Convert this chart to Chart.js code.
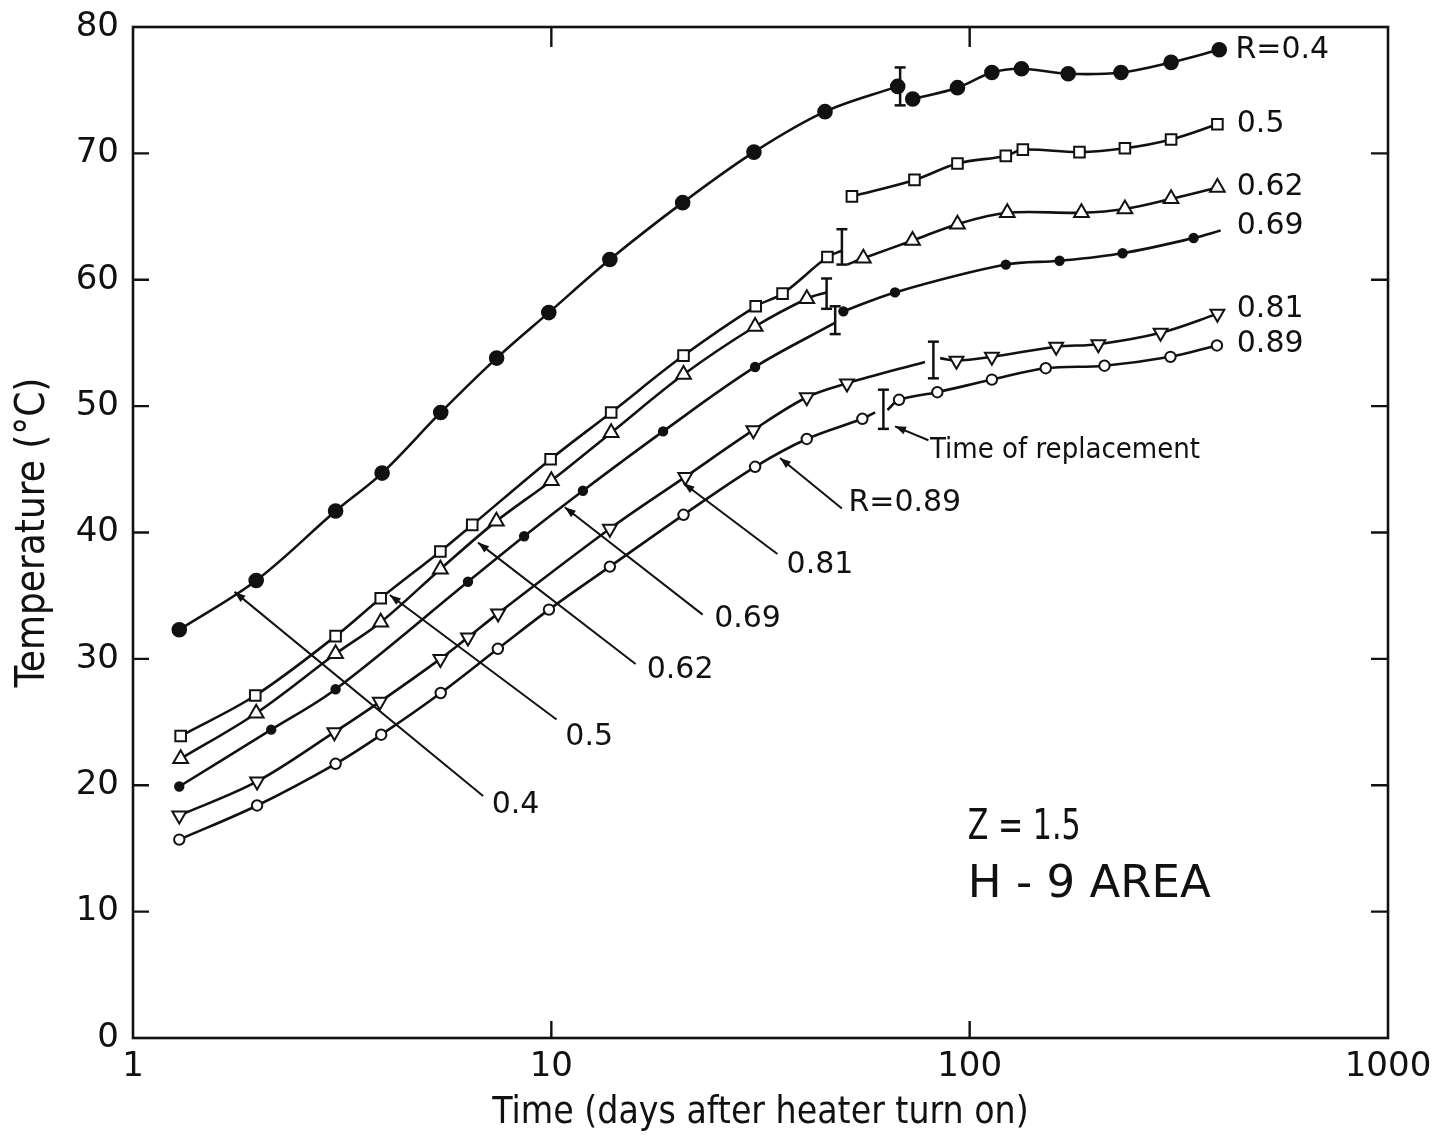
<!DOCTYPE html>
<html><head><meta charset="utf-8">
<script src="https://cdn.jsdelivr.net/npm/chart.js@4.4.1/dist/chart.umd.min.js"></script>
<style>html,body{margin:0;padding:0;background:#fff}#wrap{width:1433px;height:1136px;position:relative}</style>
</head><body><div id="wrap"><canvas id="c"></canvas></div>
<script>
const NARROW = "'Liberation Sans Narrow','DejaVu Sans Condensed','Liberation Sans',sans-serif";
const WIDE = "'DejaVu Sans',sans-serif";
const INK = '#111';

// ---- axis ticks ----
const xTickValues = [1, 10, 100, 1000];
const yTickValues = [0, 10, 20, 30, 40, 50, 60, 70, 80];

// ---- R = 0.4 (filled circles) ----
const r04PreTime = [1.29, 1.97, 3.05, 3.94, 5.44, 7.40, 9.86, 13.8, 20.6, 30.5, 45.1, 67.3];
const r04PreTemp = [32.3, 36.2, 41.7, 44.7, 49.5, 53.8, 57.4, 61.6, 66.1, 70.1, 73.3, 75.3];
const r04PreMark = [1,1,1,1,1,1,1,1,1,1,1,1];
const r04PostTime = [73.1, 93.5, 113, 133, 172, 230, 303, 395];
const r04PostTemp = [74.3, 75.2, 76.4, 76.7, 76.3, 76.4, 77.2, 78.2];
const r04PostMark = [1,1,1,1,1,1,1,1];

// ---- R = 0.5 (open squares) ----
const r05PreTime = [1.30, 1.96, 3.05, 3.91, 5.43, 6.47, 9.96, 13.9, 20.7, 30.8, 35.7, 45.7, 49.5];
const r05PreTemp = [23.9, 27.1, 31.8, 34.8, 38.5, 40.6, 45.8, 49.5, 54.0, 57.9, 58.9, 61.8, 62.3];
const r05PreMark = [1,1,1,1,1,1,1,1,1,1,1,1,0];
const r05PostTime = [52.3, 73.8, 93.5, 122, 134, 183, 235, 303, 391];
const r05PostTemp = [66.6, 67.9, 69.2, 69.8, 70.3, 70.1, 70.4, 71.1, 72.3];
const r05PostMark = [1,1,1,1,1,1,1,1,1];

// ---- R = 0.62 (open triangles) ----
const r062PreTime = [1.30, 1.97, 3.05, 3.91, 5.43, 7.39, 10.0, 13.9, 20.7, 30.7, 40.8, 45.5];
const r062PreTemp = [22.1, 25.7, 30.4, 32.9, 37.1, 40.9, 44.1, 47.9, 52.5, 56.3, 58.5, 59.0];
const r062PreMark = [1,1,1,1,1,1,1,1,1,1,1,0];
const r062PostTime = [51.0, 55.7, 73.0, 93.5, 123, 185, 235, 303, 391];
const r062PostTemp = [61.2, 61.7, 63.1, 64.4, 65.3, 65.3, 65.6, 66.4, 67.3];
const r062PostMark = [0,1,1,1,1,1,1,1,1];

// ---- R = 0.69 (small filled dots) ----
const r069PreTime = [1.29, 2.14, 3.05, 6.32, 8.61, 11.9, 18.5, 30.7, 47.7];
const r069PreTemp = [19.9, 24.4, 27.6, 36.1, 39.7, 43.3, 48.0, 53.1, 56.6];
const r069PreMark = [1,1,1,1,1,1,1,1,0];
const r069PostTime = [49.9, 66.3, 122, 164, 232, 343, 398];
const r069PostTemp = [57.5, 59.0, 61.2, 61.5, 62.1, 63.3, 63.9];
const r069PostMark = [1,1,1,1,1,1,0];

// ---- R = 0.81 (open inverted triangles) ----
const r081PreTime = [1.29, 1.98, 3.03, 3.89, 5.43, 6.32, 7.46, 13.8, 20.9, 30.4, 40.8, 50.9, 78.2];
const r081PreTemp = [17.6, 20.3, 24.2, 26.6, 30.0, 31.7, 33.6, 40.3, 44.4, 48.1, 50.7, 51.8, 53.5];
const r081PreMark = [1,1,1,1,1,1,1,1,1,1,1,1,0];
const r081PostTime = [85.0, 93.0, 113, 161, 203, 286, 391];
const r081PostTemp = [53.8, 53.6, 53.9, 54.7, 54.9, 55.8, 57.3];
const r081PostMark = [0,1,1,1,1,1,1];

// ---- R = 0.89 (open circles) ----
const r089PreTime = [1.29, 1.98, 3.05, 3.92, 5.44, 7.45, 9.87, 13.8, 20.7, 30.7, 40.8, 55.4, 59.4];
const r089PreTemp = [15.7, 18.4, 21.7, 24.0, 27.3, 30.8, 33.9, 37.3, 41.4, 45.2, 47.4, 49.0, 49.5];
const r089PreMark = [1,1,1,1,1,1,1,1,1,1,1,1,0];
const r089PostTime = [63.6, 67.8, 83.7, 113, 152, 210, 302, 390];
const r089PostTemp = [49.7, 50.5, 51.1, 52.1, 53.0, 53.2, 53.9, 54.8];
const r089PostMark = [0,1,1,1,1,1,1,1];

// ---- time of replacement bars ----
const barTime = [68.2, 49.5, 45.5, 47.7, 81.9, 62.2];
const barLow  = [73.8, 61.2, 57.7, 55.7, 52.2, 48.2];
const barHigh = [76.8, 64.0, 60.1, 57.9, 55.1, 51.3];

// ---- right-hand series labels ----
const endLabelText = ['R=0.4', '0.5', '0.62', '0.69', '0.81', '0.89'];
const endLabelTime = [432, 435, 435, 435, 435, 435];
const endLabelTemp = [78.2, 72.3, 67.3, 64.2, 57.7, 54.9];

// ---- arrow call-outs ----
const arrowText     = ['0.4', '0.5', '0.62', '0.69', '0.81', 'R=0.89', 'Time of replacement'];
const arrowHeadTime = [1.749, 4.11, 6.68, 10.77, 20.7, 35.2, 66.3];
const arrowHeadTemp = [35.3, 35.05, 39.2, 42.0, 43.9, 45.9, 48.4];
const arrowTailTime = [6.87, 10.29, 15.9, 23.0, 34.7, 49.5, 79.7];
const arrowTailTemp = [19.15, 25.2, 29.6, 33.5, 38.3, 41.9, 47.3];
const arrowTextTime = [7.2, 10.8, 16.9, 24.5, 36.5, 51.3, 80.4];
const arrowTextTemp = [18.4, 23.8, 29.1, 33.1, 37.4, 42.3, 46.5];

// ---- area note ----
const noteText = ['Z = 1.5', 'H - 9 AREA'];
const noteTime = [99, 99];
const noteTemp = [16.6, 12.1];

function series(t, T, mark, style, radius, fill, rotation) {
  return {
    data: t.map((x, i) => ({x: x, y: T[i]})),
    borderColor: INK, borderWidth: 2.6,
    pointStyle: style, pointRotation: rotation || 0,
    pointRadius: mark.map(m => m ? radius : 0),
    pointBackgroundColor: fill ? INK : '#fff',
    pointBorderColor: INK, pointBorderWidth: 2,
    tension: 0.35, fill: false, showLine: true
  };
}

const datasets = [
  series(r04PreTime, r04PreTemp, r04PreMark, 'circle', 6.8, true),
  series(r04PostTime, r04PostTemp, r04PostMark, 'circle', 6.8, true),
  series(r05PreTime, r05PreTemp, r05PreMark, 'rect', 7.5, false),
  series(r05PostTime, r05PostTemp, r05PostMark, 'rect', 7.5, false),
  series(r062PreTime, r062PreTemp, r062PreMark, 'triangle', 8.5, false),
  series(r062PostTime, r062PostTemp, r062PostMark, 'triangle', 8.5, false),
  series(r069PreTime, r069PreTemp, r069PreMark, 'circle', 4.2, true),
  series(r069PostTime, r069PostTemp, r069PostMark, 'circle', 4.2, true),
  series(r081PreTime, r081PreTemp, r081PreMark, 'triangle', 8, false, 180),
  series(r081PostTime, r081PostTemp, r081PostMark, 'triangle', 8, false, 180),
  series(r089PreTime, r089PreTemp, r089PreMark, 'circle', 5.2, false),
  series(r089PostTime, r089PostTemp, r089PostMark, 'circle', 5.2, false)
];
barTime.forEach((t, i) => {
  datasets.push({
    data: [{x: t, y: barLow[i]}, {x: t, y: barHigh[i]}],
    borderColor: INK, borderWidth: 2.5, showLine: true, tension: 0,
    pointStyle: 'line', pointRadius: 5.5, pointBorderColor: INK, pointBorderWidth: 2.5
  });
});

const decor = {
  id: 'decor',
  afterDatasetsDraw(chart) {
    const ctx = chart.ctx, a = chart.chartArea;
    const xs = chart.scales.x, ys = chart.scales.y;
    ctx.save();
    ctx.strokeStyle = INK; ctx.fillStyle = INK;
    // frame
    ctx.lineWidth = 2.6;
    ctx.strokeRect(a.left, a.top, a.right - a.left, a.bottom - a.top);
    // inward ticks
    ctx.lineWidth = 2.4;
    ctx.beginPath();
    ys.ticks.forEach(tk => {
      if (tk.value <= ys.min || tk.value >= ys.max) return;
      const py = ys.getPixelForValue(tk.value);
      ctx.moveTo(a.left, py); ctx.lineTo(a.left + 16, py);
      ctx.moveTo(a.right, py); ctx.lineTo(a.right - 17, py);
    });
    xs.ticks.forEach(tk => {
      if (tk.value <= xs.min || tk.value >= xs.max) return;
      const px = xs.getPixelForValue(tk.value);
      ctx.moveTo(px, a.bottom); ctx.lineTo(px, a.bottom - 17);
      ctx.moveTo(px, a.top); ctx.lineTo(px, a.top + 20);
    });
    ctx.stroke();
    // arrows
    ctx.lineWidth = 2;
    arrowText.forEach((txt, i) => {
      const hx = xs.getPixelForValue(arrowHeadTime[i]), hy = ys.getPixelForValue(arrowHeadTemp[i]);
      const tx = xs.getPixelForValue(arrowTailTime[i]), ty = ys.getPixelForValue(arrowTailTemp[i]);
      ctx.beginPath(); ctx.moveTo(tx, ty); ctx.lineTo(hx, hy); ctx.stroke();
      const ang = Math.atan2(hy - ty, hx - tx), L = 11, W = 4;
      ctx.beginPath();
      ctx.moveTo(hx, hy);
      ctx.lineTo(hx - L * Math.cos(ang) + W * Math.sin(ang), hy - L * Math.sin(ang) - W * Math.cos(ang));
      ctx.lineTo(hx - L * Math.cos(ang) - W * Math.sin(ang), hy - L * Math.sin(ang) + W * Math.cos(ang));
      ctx.closePath(); ctx.fill();
      const lx = xs.getPixelForValue(arrowTextTime[i]), ly = ys.getPixelForValue(arrowTextTemp[i]);
      ctx.textAlign = 'left'; ctx.textBaseline = 'middle';
      ctx.font = txt.length > 8 ? ('29px ' + NARROW) : ('30px ' + WIDE);
      ctx.fillText(txt, lx, ly);
    });
    // end labels
    ctx.font = '30px ' + WIDE; ctx.textAlign = 'left'; ctx.textBaseline = 'middle';
    endLabelText.forEach((txt, i) => {
      ctx.fillText(txt, xs.getPixelForValue(endLabelTime[i]), ys.getPixelForValue(endLabelTemp[i]));
    });
    // note
    const nx = xs.getPixelForValue(noteTime[0]);
    ctx.save();
    ctx.translate(nx, ys.getPixelForValue(noteTemp[0]));
    ctx.scale(0.7, 1);
    ctx.font = '43px ' + WIDE;
    ctx.fillText(noteText[0], 0, 0);
    ctx.restore();
    ctx.font = '45px ' + WIDE;
    ctx.fillText(noteText[1], xs.getPixelForValue(noteTime[1]), ys.getPixelForValue(noteTemp[1]));
    ctx.restore();
  }
};

new Chart(document.getElementById('c'), {
  type: 'scatter',
  data: {datasets: datasets},
  options: {
    responsive: true, maintainAspectRatio: false, animation: false,
    layout: {autoPadding: false, padding: {top: 27, right: 45, left: 0, bottom: 0}},
    plugins: {legend: {display: false}, tooltip: {enabled: false}},
    scales: {
      x: {
        type: 'logarithmic', min: 1, max: 1000,
        afterBuildTicks: s => { s.ticks = xTickValues.map(v => ({value: v})); },
        afterFit: s => { s.height = 98; s.paddingLeft = 0; s.paddingRight = 0; },
        grid: {display: false, drawTicks: false}, border: {display: false},
        ticks: {color: INK, font: {family: WIDE, size: 34}, padding: 9, maxRotation: 0, autoSkip: false,
                callback: v => String(v)},
        title: {display: true, text: 'Time (days after heater turn on)', color: INK,
                font: {family: NARROW, size: 37}, padding: {top: 0, bottom: 0}}
      },
      y: {
        min: 0, max: 80,
        afterBuildTicks: s => { s.ticks = yTickValues.map(v => ({value: v})); },
        afterFit: s => { s.width = 133; s.paddingTop = 0; s.paddingBottom = 0; },
        grid: {display: false, drawTicks: false}, border: {display: false},
        ticks: {color: INK, font: {family: WIDE, size: 34}, padding: 14},
        title: {display: true, text: 'Temperature (°C)', color: INK,
                font: {family: NARROW, size: 40}, padding: {top: 10, bottom: 0}}
      }
    }
  },
  plugins: [decor]
});
</script></body></html>
